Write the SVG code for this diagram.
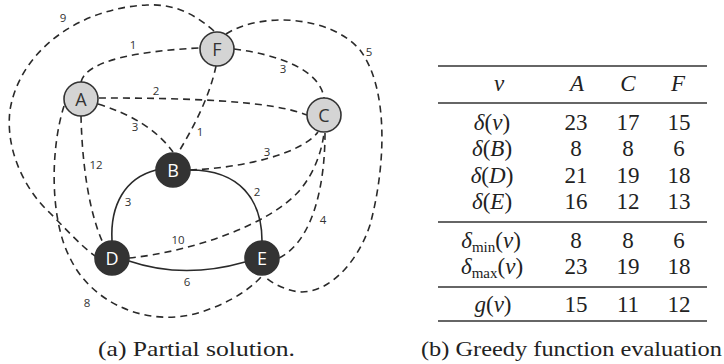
<svg xmlns="http://www.w3.org/2000/svg" width="724" height="364" viewBox="0 0 724 364">
<style>
.e{fill:none;stroke:#2a2a2a;stroke-width:1.6;stroke-dasharray:7,5}
.s{fill:none;stroke:#2a2a2a;stroke-width:1.6}
.lb{font-family:"Open Sans","DejaVu Sans",sans-serif;font-size:11.5px;fill:#333;text-anchor:middle}
.nl{fill:#d4d4d4;stroke:#333;stroke-width:1.6}
.nd{fill:#333;stroke:#333;stroke-width:1.6}
.tl{font-family:"Open Sans","DejaVu Sans",sans-serif;font-size:18px;text-anchor:middle}
.m{font-family:"Liberation Serif","DejaVu Serif",serif;font-size:23px;fill:#222;text-anchor:middle}
.i{font-style:italic}
.sub{font-size:15px}
.r{stroke:#333;stroke-width:1.4}
.cap{font-family:"Liberation Serif","DejaVu Serif",serif;font-size:21px;fill:#222}
</style>
<g id="connectors">
<path class="e" d="M214,31 C190,10 170,4 147,5 C80,8 20,50 10,110 C5,150 25,190 50,213 C65,228 80,245 95,256"/>
<path class="e" d="M81,82 C85,65 120,52 199,48"/>
<path class="e" d="M99,98 C180,98 270,100 307,115"/>
<path class="e" d="M98,104 Q150,120 173,152"/>
<path class="e" d="M216,66 C210,95 195,125 178,153"/>
<path class="e" d="M234,49 C280,55 320,70 324,98"/>
<path class="e" d="M226,34 C260,12 330,15 360,50 C390,90 385,170 370,225 C355,270 320,300 290,290 C280,287 270,282 264,276"/>
<path class="e" d="M190,170 C240,168 300,155 318,132"/>
<path class="e" d="M81,116 C82,160 88,210 103,243"/>
<path class="e" d="M64,106 C50,150 50,220 70,258 C90,300 140,325 190,315 C220,308 248,292 262,276"/>
<path class="e" d="M129,258 C190,252 270,225 300,190 C315,172 322,150 324,133"/>
<path class="e" d="M325,133 C325,180 315,240 279,258"/>
<path class="s" d="M156,170 C125,178 110,205 112,241"/>
<path class="s" d="M190,170 C240,170 262,200 262,241"/>
<path class="s" d="M129,261 C170,275 210,272 245,262"/>
<text class="lb" x="63" y="22">9</text>
<text class="lb" x="133" y="49">1</text>
<text class="lb" x="156" y="95">2</text>
<text class="lb" x="135" y="131">3</text>
<text class="lb" x="200" y="136">1</text>
<text class="lb" x="283" y="73">3</text>
<text class="lb" x="369" y="56">5</text>
<text class="lb" x="267" y="156">3</text>
<text class="lb" x="96" y="169">12</text>
<text class="lb" x="87" y="307">8</text>
<text class="lb" x="178" y="244">10</text>
<text class="lb" x="323" y="224">4</text>
<text class="lb" x="128" y="206">3</text>
<text class="lb" x="257" y="196">2</text>
<text class="lb" x="187" y="286">6</text>
</g>
<g id="node-A"><circle class="nl" cx="81" cy="99" r="17"/><text class="tl" x="81" y="105.5" fill="#333">A</text></g>
<g id="node-F"><circle class="nl" cx="217" cy="49" r="17"/><text class="tl" x="217" y="55.5" fill="#333">F</text></g>
<g id="node-C"><circle class="nl" cx="324" cy="115" r="17"/><text class="tl" x="324" y="121.5" fill="#333">C</text></g>
<g id="node-B"><circle class="nd" cx="173" cy="170" r="17"/><text class="tl" x="173" y="176.5" fill="#fff">B</text></g>
<g id="node-D"><circle class="nd" cx="112" cy="258" r="17"/><text class="tl" x="112" y="264.5" fill="#fff">D</text></g>
<g id="node-E"><circle class="nd" cx="262" cy="258" r="17"/><text class="tl" x="262" y="264.5" fill="#fff">E</text></g>
<text class="cap" x="98" y="356" textLength="197" lengthAdjust="spacingAndGlyphs">(a) Partial solution.</text>
<g id="table">
<line class="r" x1="438" y1="66" x2="707" y2="66"/>
<line class="r" x1="438" y1="103" x2="707" y2="103"/>
<line class="r" x1="438" y1="222" x2="707" y2="222"/>
<line class="r" x1="438" y1="287" x2="707" y2="287"/>
<line class="r" x1="438" y1="321" x2="707" y2="321"/>
<text class="m i" x="499" y="91">v</text>
<text class="m i" x="577" y="91">A</text>
<text class="m i" x="628" y="91">C</text>
<text class="m i" x="678" y="91">F</text>
<text class="m" x="492" y="129.5"><tspan class="i">δ</tspan>(<tspan class="i">v</tspan>)</text>
<text class="m" x="576" y="129.5">23</text><text class="m" x="628" y="129.5">17</text><text class="m" x="679" y="129.5">15</text>
<text class="m" x="492" y="156"><tspan class="i">δ</tspan>(<tspan class="i">B</tspan>)</text>
<text class="m" x="576" y="156">8</text><text class="m" x="628" y="156">8</text><text class="m" x="679" y="156">6</text>
<text class="m" x="492" y="182.5"><tspan class="i">δ</tspan>(<tspan class="i">D</tspan>)</text>
<text class="m" x="576" y="182.5">21</text><text class="m" x="628" y="182.5">19</text><text class="m" x="679" y="182.5">18</text>
<text class="m" x="492" y="209"><tspan class="i">δ</tspan>(<tspan class="i">E</tspan>)</text>
<text class="m" x="576" y="209">16</text><text class="m" x="628" y="209">12</text><text class="m" x="679" y="209">13</text>
<text class="m" x="491" y="247.5"><tspan class="i">δ</tspan><tspan class="sub" dy="4">min</tspan><tspan dy="-4">(</tspan><tspan class="i">v</tspan>)</text>
<text class="m" x="576" y="247.5">8</text><text class="m" x="628" y="247.5">8</text><text class="m" x="679" y="247.5">6</text>
<text class="m" x="492" y="273.5"><tspan class="i">δ</tspan><tspan class="sub" dy="4">max</tspan><tspan dy="-4">(</tspan><tspan class="i">v</tspan>)</text>
<text class="m" x="576" y="273.5">23</text><text class="m" x="628" y="273.5">19</text><text class="m" x="679" y="273.5">18</text>
<text class="m" x="493" y="311.5"><tspan class="i">g</tspan>(<tspan class="i">v</tspan>)</text>
<text class="m" x="576" y="311.5">15</text><text class="m" x="628" y="311.5">11</text><text class="m" x="679" y="311.5">12</text>
</g>
<text class="cap" x="421" y="356" textLength="301" lengthAdjust="spacingAndGlyphs">(b) Greedy function evaluation</text>
</svg>
